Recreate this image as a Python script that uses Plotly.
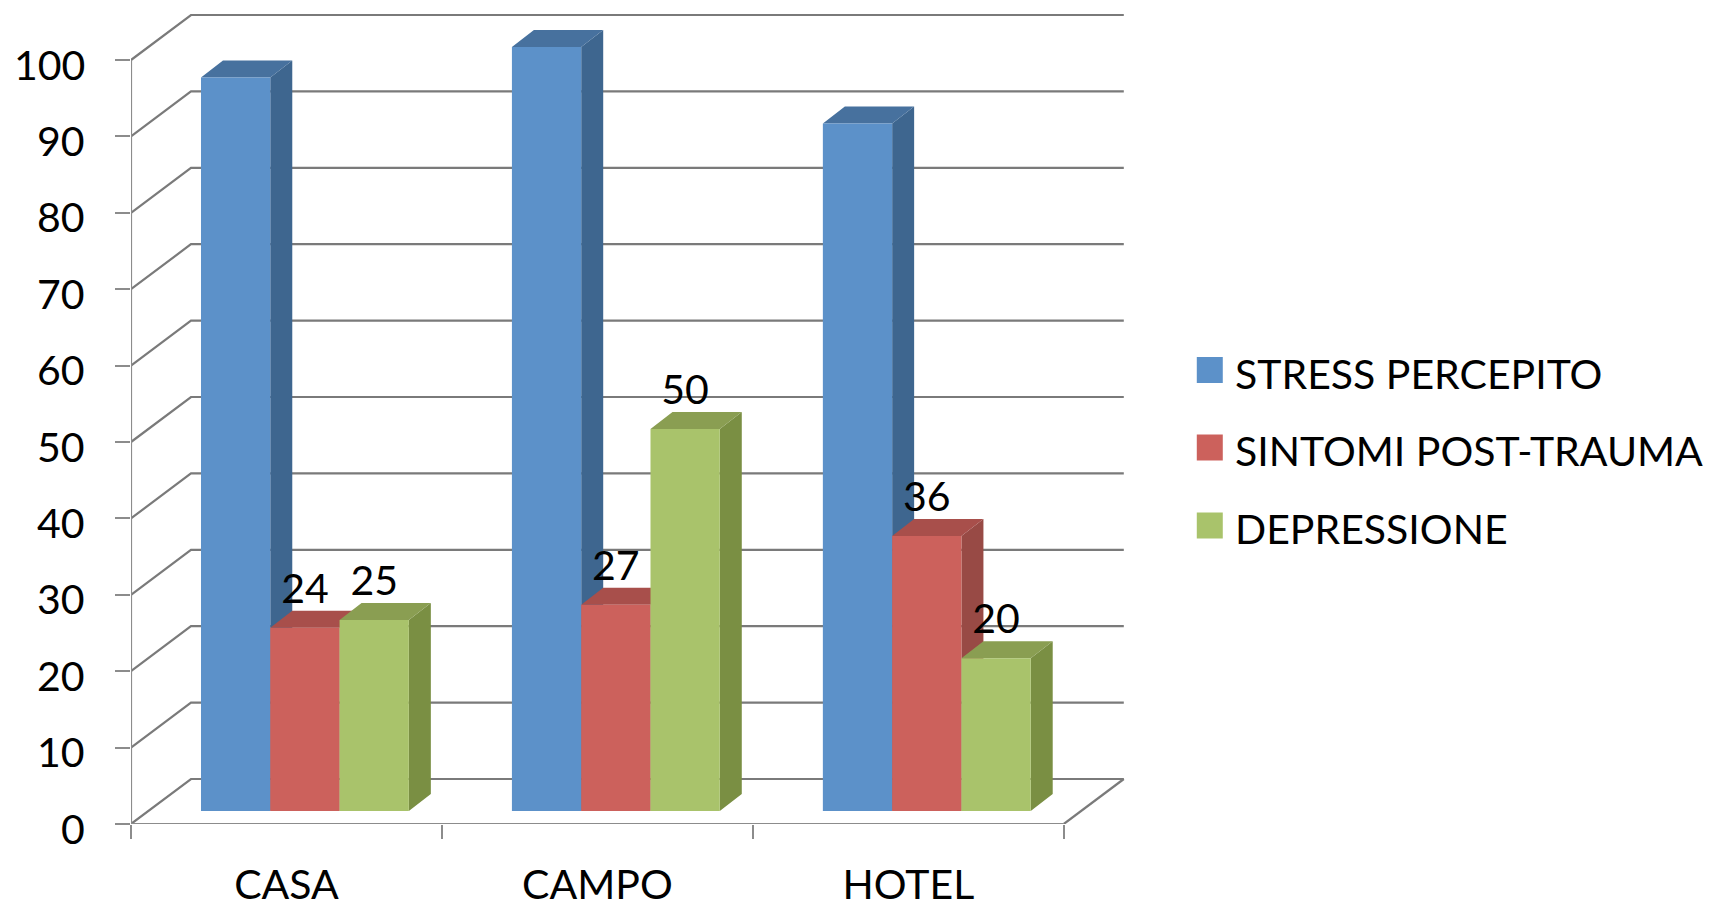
import plotly.graph_objects as go

categories = ["CASA", "CAMPO", "HOTEL"]
stress_percepito = [96, 100, 90]
sintomi_post_trauma = [24, 27, 36]
depressione = [25, 50, 20]
y_ticks = list(range(0, 101, 10))

FONT = "Lato"
FONT_SIZE = 41
AXIS_GREY = "#8c8c8c"
WALL_GREY = "#7a7a7a"

# Pixel frame of the front axes; the oblique depth is expressed in axis units.
WIDTH, HEIGHT = 1717, 907
LEFT, RIGHT, BOTTOM, Y100 = 131, 1064, 824, 60
PX_X = (RIGHT - LEFT) / 3
PX_Y = (BOTTOM - Y100) / 100
WALL_DX, WALL_DY = 60 / PX_X, 45 / PX_Y
BAR_DX, BAR_DY = 22 / PX_X, 17 / PX_Y
BAR_BASE = 13 / PX_Y
BAR_START = 70 / PX_X
BAR_WIDTH = 69.3 / PX_X

# The plot area runs past the front axes so the oblique walls stay inside it.
X_MAX = 3.2
Y_MAX = BOTTOM / PX_Y
PLOT_RIGHT = LEFT + X_MAX * PX_X

series = [
    ("STRESS PERCEPITO", stress_percepito, "#5c91c9", "#3e668f", "#47719e", False),
    ("SINTOMI POST-TRAUMA", sintomi_post_trauma, "#cc615c", "#984a45", "#a84f4b", True),
    ("DEPRESSIONE", depressione, "#a9c36b", "#7a8f43", "#8a9e52", True),
]

fig = go.Figure()

# Side wall, back wall and floor edge of the oblique box.
wall_x, wall_y = [], []
for t in y_ticks:
    wall_x += [0, WALL_DX, 3 + WALL_DX, None]
    wall_y += [t, t + WALL_DY, t + WALL_DY, None]
wall_x += [3, 3 + WALL_DX, None]
wall_y += [0, WALL_DY, None]
fig.add_trace(go.Scatter(x=wall_x, y=wall_y, mode="lines",
                         line=dict(color=WALL_GREY, width=2.2),
                         hoverinfo="skip", showlegend=False, zorder=0))

# Front axis lines, stopping at the last tick of each axis.
fig.add_trace(go.Scatter(x=[0, 0, 3], y=[100, 0, 0], mode="lines",
                         line=dict(color=AXIS_GREY, width=2.2),
                         hoverinfo="skip", showlegend=False, zorder=0))

for s, (name, values, front, side, top, labelled) in enumerate(series):
    xs = [c + BAR_START + s * BAR_WIDTH for c in range(len(categories))]
    side_x, side_y, top_x, top_y = [], [], [], []
    for x0, v in zip(xs, values):
        x1 = x0 + BAR_WIDTH
        h = BAR_BASE + v
        side_x += [x1, x1 + BAR_DX, x1 + BAR_DX, x1, x1, None]
        side_y += [BAR_BASE, BAR_BASE + BAR_DY, h + BAR_DY, h, BAR_BASE, None]
        top_x += [x0, x0 + BAR_DX, x1 + BAR_DX, x1, x0, None]
        top_y += [h, h + BAR_DY, h + BAR_DY, h, h, None]
    for px, py, colour in ((side_x, side_y, side), (top_x, top_y, top)):
        fig.add_trace(go.Scatter(x=px, y=py, mode="lines", fill="toself", fillcolor=colour,
                                 line=dict(width=0), hoverinfo="skip",
                                 showlegend=False, zorder=3 * s + 1))
    fig.add_trace(go.Bar(x=[x + BAR_WIDTH / 2 for x in xs], y=values, base=BAR_BASE,
                         width=BAR_WIDTH, name=name, marker=dict(color=front, line=dict(width=0)),
                         showlegend=False, zorder=3 * s + 2))
    if labelled:
        fig.add_trace(go.Scatter(x=[x + BAR_WIDTH / 2 for x in xs],
                                 y=[BAR_BASE + v + 1.9 for v in values],
                                 mode="text", text=[str(v) for v in values],
                                 textposition="top center",
                                 textfont=dict(family=FONT, size=FONT_SIZE, color="black"),
                                 hoverinfo="skip", showlegend=False, zorder=20))

# Hand-built legend with large square swatches, placed in paper fractions.
def paper_x(px):
    return (px - LEFT) / (PLOT_RIGHT - LEFT)

def paper_y(py):
    return (BOTTOM - py) / BOTTOM

legend_centres = [370, 447.5, 525.5]
for (name, _, front, _, _, _), cy in zip(series, legend_centres):
    fig.add_shape(type="rect", xref="paper", yref="paper", line=dict(width=0), fillcolor=front,
                  x0=paper_x(1197), x1=paper_x(1223), y0=paper_y(cy + 13), y1=paper_y(cy - 13))
    fig.add_annotation(text=name, xref="paper", yref="paper", showarrow=False,
                       x=paper_x(1233), xanchor="left", y=paper_y(cy + 3), yanchor="middle",
                       font=dict(family=FONT, size=FONT_SIZE, color="black"))

# Value-axis labels sit slightly below their ticks, so they are placed individually.
for t in y_ticks:
    fig.add_annotation(text=str(t), xref="paper", yref="y", showarrow=False,
                       x=paper_x(87), xanchor="right", y=t, yanchor="middle", yshift=-4,
                       font=dict(family=FONT, size=FONT_SIZE, color="black"))

fig.update_layout(
    width=WIDTH, height=HEIGHT, autosize=False,
    margin=dict(l=LEFT, r=WIDTH - PLOT_RIGHT, t=0, b=HEIGHT - BOTTOM, pad=0),
    paper_bgcolor="white", plot_bgcolor="white",
    barmode="overlay", showlegend=False,
    font=dict(family=FONT, size=FONT_SIZE, color="black"),
    xaxis=dict(range=[0, X_MAX], automargin=False, tickmode="array",
               tickvals=[i + 0.5 for i in range(3)],
               ticktext=categories, ticks="", showgrid=False, zeroline=False, showline=False,
               ticklabelstandoff=33,
               minor=dict(tickmode="array", tickvals=[0, 1, 2, 3], ticks="outside",
                          ticklen=14, tickwidth=1.6, tickcolor=AXIS_GREY, showgrid=False)),
    yaxis=dict(range=[0, Y_MAX], automargin=False, tickmode="array", tickvals=y_ticks,
               ticks="outside", ticklen=15, tickwidth=1.6, tickcolor=AXIS_GREY,
               showticklabels=False, showgrid=False, zeroline=False, showline=False),
)

fig.write_html("out.html", config=dict(displayModeBar=False))
